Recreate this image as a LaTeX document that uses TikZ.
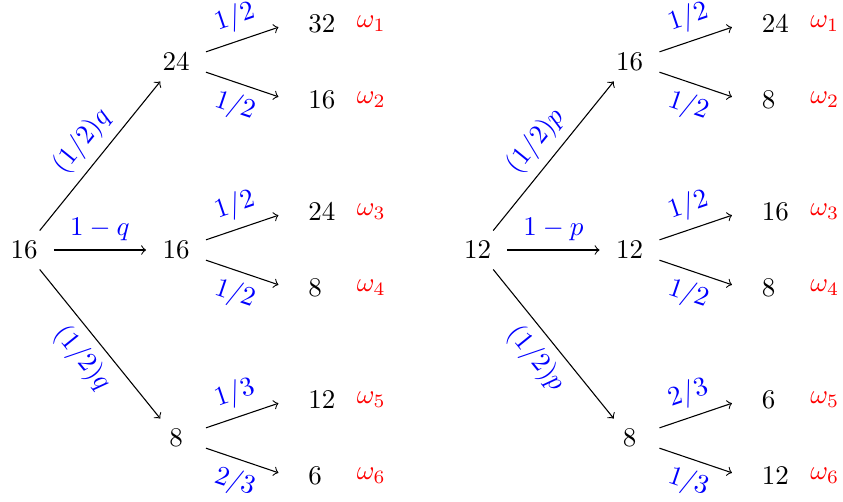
\documentclass[tikz,border=0pt]{standalone}
\begin{document}
\begin{tikzpicture}[x=0.37037pt, y=-0.37037pt,
  state/.style={minimum width=21.8pt, minimum height=14pt, inner sep=0pt},
  endpt/.style={inner sep=3.33pt},
  val/.style={anchor=west, inner sep=0pt},
  omg/.style={anchor=west, inner sep=0pt, text=red},
  prob/.style={midway, sloped, text=blue},
  link/.style={->}]
\useasboundingbox (0,0) rectangle (843,501);
% ---------------- left tree ----------------
\node[state] (Lr) at (24,250) {$16$};
\node[state] (La) at (176,62) {$24$};
\node[state] (Lb) at (176,250) {$16$};
\node[state] (Lc) at (176,438) {$8$};
\node[endpt] (Lp1) at (288,24) {};
\node[endpt] (Lp2) at (288,100) {};
\node[endpt] (Lp3) at (288,212) {};
\node[endpt] (Lp4) at (288,288) {};
\node[endpt] (Lp5) at (288,400) {};
\node[endpt] (Lp6) at (288,476) {};
\node[val] (Lv1) at (307.9,24) {$32$};
\node[val] (Lv2) at (307.9,100) {$16$};
\node[val] (Lv3) at (307.9,212) {$24$};
\node[val] (Lv4) at (307.9,288) {$8$};
\node[val] (Lv5) at (307.9,400) {$12$};
\node[val] (Lv6) at (307.9,476) {$6$};
\node[omg] (Lw1) at (356.3,24) {$\omega_1$};
\node[omg] (Lw2) at (356.3,100) {$\omega_2$};
\node[omg] (Lw3) at (356.3,212) {$\omega_3$};
\node[omg] (Lw4) at (356.3,288) {$\omega_4$};
\node[omg] (Lw5) at (356.3,400) {$\omega_5$};
\node[omg] (Lw6) at (356.3,476) {$\omega_6$};
\draw[link] (Lr) -- (La) node[prob, above] {$(1/2)q$};
\draw[link] (Lr) -- (Lb) node[prob, above] {$1-q$};
\draw[link] (Lr) -- (Lc) node[prob, below] {$(1/2)q$};
\draw[link] (La) -- (Lp1) node[prob, above] {$1/2$};
\draw[link] (La) -- (Lp2) node[prob, below] {$1/2$};
\draw[link] (Lb) -- (Lp3) node[prob, above] {$1/2$};
\draw[link] (Lb) -- (Lp4) node[prob, below] {$1/2$};
\draw[link] (Lc) -- (Lp5) node[prob, above] {$1/3$};
\draw[link] (Lc) -- (Lp6) node[prob, below] {$2/3$};
% ---------------- right tree ----------------
\begin{scope}[shift={(453.5,0)}]
\node[state] (Rr) at (24,250) {$12$};
\node[state] (Ra) at (176,62) {$16$};
\node[state] (Rb) at (176,250) {$12$};
\node[state] (Rc) at (176,438) {$8$};
\node[endpt] (Rp1) at (288,24) {};
\node[endpt] (Rp2) at (288,100) {};
\node[endpt] (Rp3) at (288,212) {};
\node[endpt] (Rp4) at (288,288) {};
\node[endpt] (Rp5) at (288,400) {};
\node[endpt] (Rp6) at (288,476) {};
\node[val] (Rv1) at (307.9,24) {$24$};
\node[val] (Rv2) at (307.9,100) {$8$};
\node[val] (Rv3) at (307.9,212) {$16$};
\node[val] (Rv4) at (307.9,288) {$8$};
\node[val] (Rv5) at (307.9,400) {$6$};
\node[val] (Rv6) at (307.9,476) {$12$};
\node[omg] (Rw1) at (356.3,24) {$\omega_1$};
\node[omg] (Rw2) at (356.3,100) {$\omega_2$};
\node[omg] (Rw3) at (356.3,212) {$\omega_3$};
\node[omg] (Rw4) at (356.3,288) {$\omega_4$};
\node[omg] (Rw5) at (356.3,400) {$\omega_5$};
\node[omg] (Rw6) at (356.3,476) {$\omega_6$};
\draw[link] (Rr) -- (Ra) node[prob, above] {$(1/2)p$};
\draw[link] (Rr) -- (Rb) node[prob, above] {$1-p$};
\draw[link] (Rr) -- (Rc) node[prob, below] {$(1/2)p$};
\draw[link] (Ra) -- (Rp1) node[prob, above] {$1/2$};
\draw[link] (Ra) -- (Rp2) node[prob, below] {$1/2$};
\draw[link] (Rb) -- (Rp3) node[prob, above] {$1/2$};
\draw[link] (Rb) -- (Rp4) node[prob, below] {$1/2$};
\draw[link] (Rc) -- (Rp5) node[prob, above] {$2/3$};
\draw[link] (Rc) -- (Rp6) node[prob, below] {$1/3$};
\end{scope}
\end{tikzpicture}
\end{document}
